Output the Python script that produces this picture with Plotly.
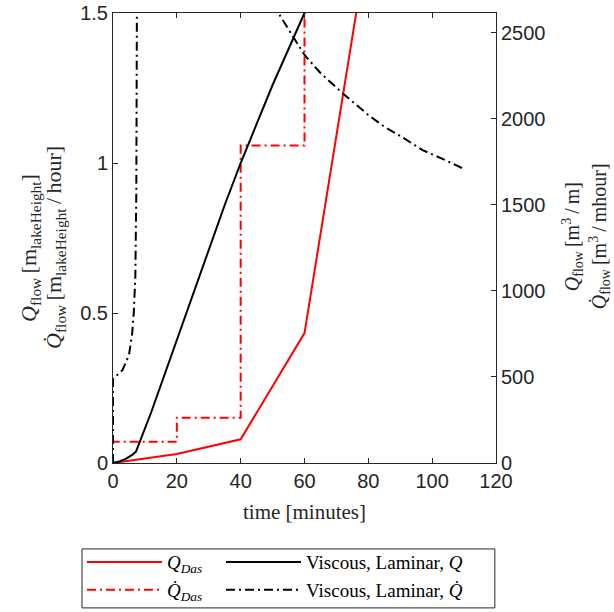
import plotly.graph_objects as go

# ---- data (left-axis units: m_lakeHeight and m_lakeHeight/hour) ----
das_t = [0, 20, 40, 60, 80]
das_Q = [0, 0.03, 0.079, 0.433, 1.75]

das_dot_t = [0, 0, 20, 40, 60, 80]
das_dot_Q = [0, 0.071, 0.151, 1.058, 3.95, 3.95]

visc_t = [0, 2, 4, 6, 7.2, 8, 9.5, 12, 15, 20, 25, 30, 35, 40, 45, 50, 55, 60, 65]
visc_Q = [0, 0.005, 0.014, 0.027, 0.038, 0.06, 0.099, 0.17, 0.26, 0.41,
          0.56, 0.71, 0.86, 1.0, 1.13, 1.26, 1.38, 1.5, 1.62]

visc_dot_t = [0, 0, 1, 3, 5, 6, 6.5, 7, 7.3, 7.5, 7.7, 10, 20, 30, 40, 50, 51.8,
              56.5, 60, 65, 72, 80, 85, 90, 97, 104, 110]
visc_dot_Q = [0, 0.28, 0.29, 0.31, 0.36, 0.43, 0.5, 0.62, 0.9, 1.3, 2.2, 2.1,
              1.9, 1.75, 1.64, 1.54, 1.5, 1.42, 1.36, 1.30, 1.232, 1.16, 1.121,
              1.09, 1.043, 1.01, 0.98]

x_ticks = [0, 20, 40, 60, 80, 100, 120]
y_ticks = [0, 0.5, 1, 1.5]
y_tick_text = ["0", "0.5", "1", "1.5"]
y2_ticks = [0, 500, 1000, 1500, 2000, 2500]
right_factor = 1744  # m^3/m per m_lakeHeight

DASH = "9px,4px,2px,4px"
AX = "#262626"
SERIF = "Liberation Serif"
TS = "\u2009"

fig = go.Figure()
fig.add_trace(go.Scatter(x=das_t, y=das_Q, mode="lines", name="<i>Q</i><sub><i>Das</i></sub>",
                         line=dict(color="#ff0000", width=2), legend="legend"))
fig.add_trace(go.Scatter(x=das_dot_t, y=das_dot_Q, mode="lines", line_shape="hv",
                         name="<i>Q\u0307</i><sub><i>Das</i></sub>",
                         line=dict(color="#ff0000", width=2, dash=DASH), legend="legend"))
fig.add_trace(go.Scatter(x=visc_t, y=visc_Q, mode="lines", name="Viscous, Laminar, <i>Q</i>",
                         line=dict(color="#000000", width=2), legend="legend2"))
fig.add_trace(go.Scatter(x=visc_dot_t, y=visc_dot_Q, mode="lines",
                         name="Viscous, Laminar, <i>Q\u0307</i>",
                         line=dict(color="#000000", width=2, dash=DASH), legend="legend2"))
fig.add_trace(go.Scatter(x=[None], y=[None], yaxis="y2", showlegend=False, hoverinfo="skip"))

annots = [
    dict(text=f"<i>Q</i><sub>flow</sub>{TS}[m<sub>lakeHeight</sub>]", x=-0.2167, y=0.478, size=22),
    dict(text=f"<i>Q\u0307</i><sub>flow</sub>{TS}[m<sub>lakeHeight</sub>{TS}/{TS}hour]",
         x=-0.1514, y=0.478, size=22),
    dict(text=f"<i>Q</i><sub>flow</sub>{TS}[m<sup>3</sup>{TS}/{TS}m]", x=1.201, y=0.504, size=20),
    dict(text=f"<i>Q\u0307</i><sub>flow</sub>{TS}[m<sup>3</sup>{TS}/{TS}mhour]",
         x=1.2715, y=0.504, size=20),
]
for a in annots:
    fig.add_annotation(text=a["text"], x=a["x"], y=a["y"], xref="paper", yref="paper",
                       xanchor="center", yanchor="middle", textangle=-90, showarrow=False,
                       font=dict(family=SERIF, size=a["size"], color=AX))

# legend frame
fig.add_shape(type="rect", xref="paper", yref="paper", x0=-0.0809, x1=0.997,
              y0=-0.322, y1=-0.191, line=dict(color=AX, width=1), fillcolor="rgba(0,0,0,0)")

fig.update_layout(
    width=614, height=612,
    margin=dict(l=113, r=118, t=13, b=149, autoexpand=False),
    paper_bgcolor="white", plot_bgcolor="white",
    font=dict(family="Liberation Sans, Arial", color=AX, size=20),
    showlegend=True,
    xaxis=dict(range=[0, 120], tickvals=x_ticks, ticks="inside", ticklen=5, tickcolor=AX,
               showline=True, linecolor=AX, linewidth=1, mirror="ticks", showgrid=False,
               zeroline=False, tickfont=dict(size=20, color=AX), automargin=False,
               ticklabeloverflow="allow",
               title=dict(text="time [minutes]", font=dict(family=SERIF, size=21, color=AX),
                          standoff=13)),
    yaxis=dict(range=[0, 1.5], tickvals=y_ticks, ticktext=y_tick_text, ticks="inside",
               ticklen=5, tickcolor=AX, showline=True, linecolor=AX, linewidth=1,
               showgrid=False, zeroline=False, tickfont=dict(size=20, color=AX),
               automargin=False, ticklabeloverflow="allow"),
    yaxis2=dict(overlaying="y", side="right", range=[0, 1.5 * right_factor],
                tickvals=y2_ticks, ticks="inside", ticklen=5, tickcolor=AX, showline=True,
                linecolor=AX, linewidth=1, showgrid=False, zeroline=False,
                tickfont=dict(size=20, color=AX), automargin=False,
                ticklabeloverflow="allow"),
    legend=dict(orientation="v", x=-0.081, xanchor="left", y=-0.178, yanchor="top",
                borderwidth=0, bgcolor="rgba(0,0,0,0)",
                font=dict(family=SERIF, size=19, color="#000000"), itemwidth=75),
    legend2=dict(orientation="v", x=0.282, xanchor="left", y=-0.178, yanchor="top",
                 borderwidth=0, bgcolor="rgba(0,0,0,0)",
                 font=dict(family=SERIF, size=19, color="#000000"), itemwidth=75),
)

fig.write_html("out.html", config={"displayModeBar": False},
               post_script="document.body.style.margin='0';document.body.style.overflow='hidden';")
